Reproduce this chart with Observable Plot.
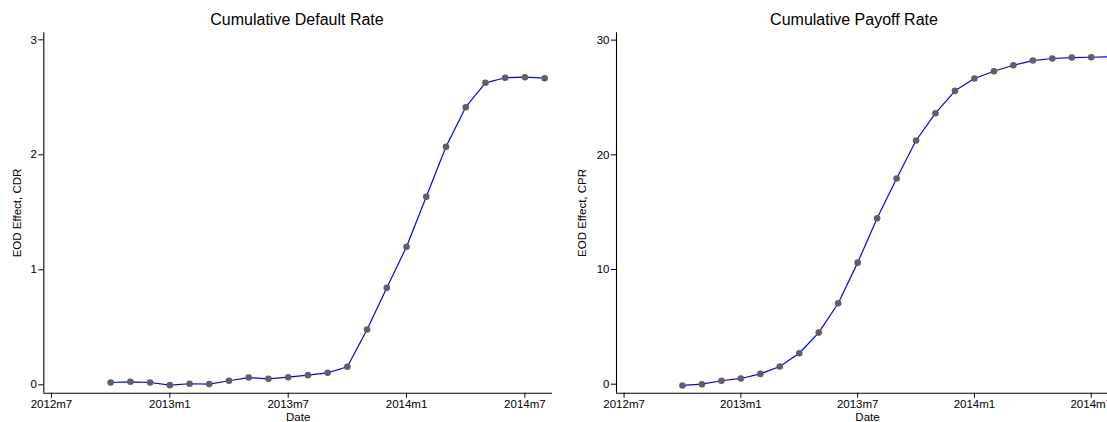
<!DOCTYPE html>
<html>
<head>
<meta charset="utf-8">
<script src="https://cdn.jsdelivr.net/npm/d3@7"></script>
<script src="https://cdn.jsdelivr.net/npm/@observablehq/plot@0.6"></script>
<style>
  html, body { margin: 0; padding: 0; background: #fff; overflow: hidden; }
  #wrap { position: relative; width: 1107px; height: 422px; overflow: hidden; }
  .panel { position: absolute; top: 0; height: 422px; }
  .panel svg { max-width: none; display: block; }
  .title {
    position: absolute; top: 11.5px; font: 16px/16px "Liberation Sans", Arial, sans-serif;
    color: #000; white-space: nowrap; transform: translateX(-50%);
  }
</style>
</head>
<body>
<div id="wrap">
  <div class="panel" id="left" style="left:0px; width:560px"></div>
  <div class="panel" id="right" style="left:560px; width:566px"></div>
  <div class="title" style="left:297px">Cumulative Default Rate</div>
  <div class="title" style="left:854px">Cumulative Payoff Rate</div>
</div>
<script>
// Monthly observation dates (Stata %tm style labels)
const months = [
  "2012m10", "2012m11", "2012m12", "2013m1", "2013m2", "2013m3", "2013m4", "2013m5",
  "2013m6", "2013m7", "2013m8", "2013m9", "2013m10", "2013m11", "2013m12", "2014m1",
  "2014m2", "2014m3", "2014m4", "2014m5", "2014m6", "2014m7", "2014m8"
];

// EOD effect on cumulative default rate (CDR)
const cdr = [
  0.020, 0.026, 0.020, -0.003, 0.009, 0.006, 0.035, 0.063,
  0.052, 0.066, 0.084, 0.104, 0.157, 0.481, 0.843, 1.200,
  1.635, 2.070, 2.414, 2.626, 2.670, 2.675, 2.666
];

// EOD effect on cumulative payoff rate (CPR)
const cpr = [
  -0.11, 0.00, 0.30, 0.50, 0.90, 1.54, 2.70, 4.50,
  7.06, 10.60, 14.47, 17.93, 21.25, 23.63, 25.58, 26.65,
  27.29, 27.81, 28.22, 28.40, 28.48, 28.51, 28.55
];

// Axis tick labels
const xTickLabels = ["2012m7", "2013m1", "2013m7", "2014m1", "2014m7"];
const cdrTicks = [0, 1, 2, 3];
const cprTicks = [0, 10, 20, 30];

// Month label -> number of months since 2012m7
function monthIndex(label) {
  const [y, m] = label.split("m").map(Number);
  return (y - 2012) * 12 + (m - 7);
}
const xTicks = xTickLabels.map(monthIndex);
const tickLabelOf = new Map(xTickLabels.map(l => [monthIndex(l), l]));

const font = `"Liberation Sans", Arial, sans-serif`;
const xDomain = [-0.39, 25.4];

function panel({values, yDomain, yTicks, yLabel, width, marginLeft, ylabelDx}) {
  const data = months.map((m, i) => ({t: monthIndex(m), v: values[i]}));
  return Plot.plot({
    width, height: 422,
    marginLeft, marginRight: 8, marginTop: 32.3, marginBottom: 29.3,
    style: {fontFamily: font, fontSize: "11.5px", color: "#000", background: "#fff", overflow: "visible"},
    x: {domain: xDomain, ticks: xTicks, tickFormat: d => tickLabelOf.get(d), tickSize: 5, tickPadding: 2, label: null},
    y: {domain: yDomain, ticks: yTicks, tickFormat: d => String(d), tickSize: 5, tickPadding: 2, label: null},
    marks: [
      Plot.ruleX([xDomain[0]], {stroke: "#000", strokeWidth: 1.1}),
      Plot.ruleY([yDomain[0]], {stroke: "#000", strokeWidth: 1.1}),
      Plot.line(data, {x: "t", y: "v", stroke: "#0000ff", strokeWidth: 1.2}),
      Plot.dot(data, {x: "t", y: "v", r: 3.3, fill: "#606060", stroke: null}),
      Plot.text(["Date"], {frameAnchor: "bottom", lineAnchor: "middle", dy: 24.1, fontSize: 11.5, fill: "#000"}),
      Plot.text([yLabel], {frameAnchor: "left", lineAnchor: "middle", dx: ylabelDx, rotate: -90, textAnchor: "middle", fontSize: 11.5, fill: "#000"})
    ]
  });
}

document.getElementById("left").appendChild(panel({
  values: cdr, yDomain: [-0.073, 3.061], yTicks: cdrTicks, yLabel: "EOD Effect, CDR",
  width: 560, marginLeft: 43.3, ylabelDx: -26.3
}));

document.getElementById("right").appendChild(panel({
  values: cpr, yDomain: [-0.785, 30.64], yTicks: cprTicks, yLabel: "EOD Effect, CPR",
  width: 566, marginLeft: 56, ylabelDx: -34
}));
</script>
</body>
</html>
